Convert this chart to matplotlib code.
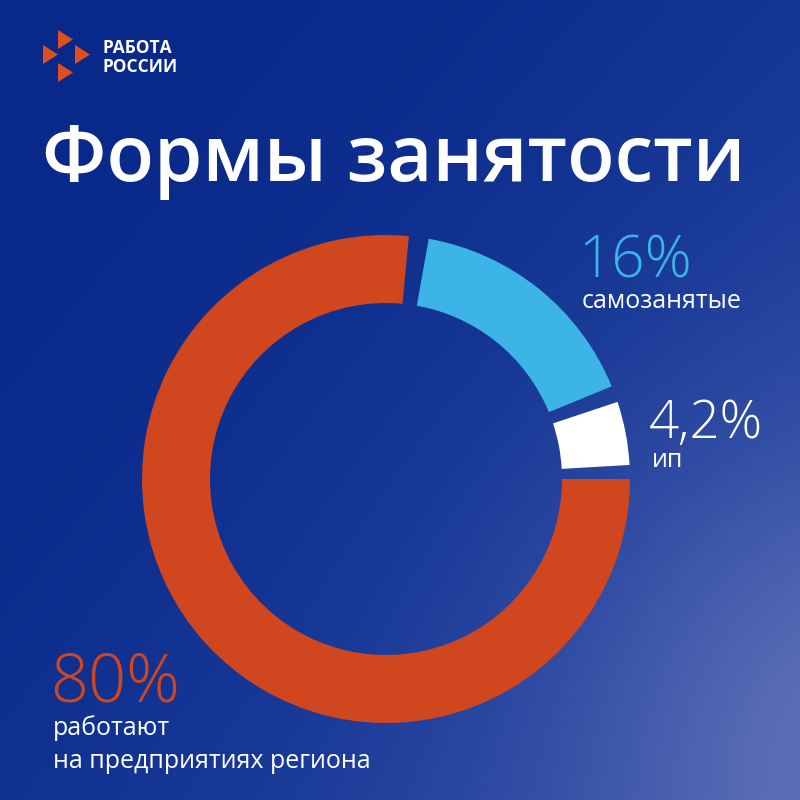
import numpy as np
import matplotlib
matplotlib.use("Agg")
import matplotlib.pyplot as plt
from matplotlib.patches import Wedge, Polygon
from matplotlib.colors import LinearSegmentedColormap

# data
labels = ["ип", "самозанятые", ["работают", "на предприятиях региона"]]
shares = [4.2, 16, 80]
value_texts = ["4,2%", "16%", "80%"]
colors = ["#ffffff", "#3cb4e6", "#d0461f"]
title = "Формы занятости"
brand = "РАБОТА\nРОССИИ"

W = H = 800
fig = plt.figure(figsize=(8, 8), dpi=100)
ax = fig.add_axes([0, 0, 1, 1])
ax.set_xlim(0, W)
ax.set_ylim(0, H)
ax.axis("off")

# background gradient (dark top-left -> lighter bottom-right)
yy, xx = np.mgrid[0:H, 0:W] / W
t = np.clip((xx * 0.55 + (1 - yy) * 0.45), 0, 1) ** 1.8
glow = np.exp(-(((xx - 1.0) ** 2 + (yy - 0.15) ** 2) / 0.14))
t = np.clip(t * 0.75 + glow * 0.32, 0, 1)
cmap = LinearSegmentedColormap.from_list("bg", ["#08288a", "#1a3a98", "#3550a6", "#5a6db6"])
ax.imshow(t, cmap=cmap, extent=[0, W, 0, H], origin="lower", aspect="auto", zorder=0)

# donut
cx, cy, R, ring = 386, 321, 244, 68
gaps = [3.3, 3.9, 4.7]
theta = 0.0
for share, col, g in zip(shares, colors, gaps):
    theta += g
    span = share * 3.6 if share < 50 else 360 - theta
    ax.add_patch(Wedge((cx, cy), R, theta, theta + span, width=ring,
                       facecolor=col, edgecolor="none", zorder=2))
    theta += span

txt = dict(family="Open Sans", va="baseline", zorder=3)

# labels
ax.text(649, 800 - 438, value_texts[0], color="white", fontsize=38,
        fontweight="light", **txt)
ax.text(652, 800 - 467, labels[0], color="white", fontsize=18, **txt)
ax.text(578, 800 - 278, value_texts[1], color=colors[1], fontsize=42,
        fontweight="light", **txt)
ax.text(582, 800 - 308, labels[1], color="white", fontsize=18, **txt)
ax.text(50, 800 - 702, value_texts[2], color=colors[2], fontsize=48,
        fontweight="light", **txt)
for i, line in enumerate(labels[2]):
    ax.text(53, 800 - 735 - 33 * i, line, color="white", fontsize=18, **txt)

# title
ax.text(42, 800 - 181, title, color="white", fontsize=56,
        fontweight="semibold", **txt)

# logo
tri = [(58, 30), (43, 45), (75, 45), (58, 63)]
for x0, y0 in tri:
    pts = [(x0, 800 - y0), (x0, 800 - y0 - 19), (x0 + 15, 800 - y0 - 9.5)]
    ax.add_patch(Polygon(pts, closed=True, facecolor="#e0501e", edgecolor="none", zorder=3))
ax.text(102, 800 - 72, brand, color="white", fontsize=12.5, fontweight="bold",
        linespacing=1.1, **txt)

fig.savefig("out.png", dpi=100)
